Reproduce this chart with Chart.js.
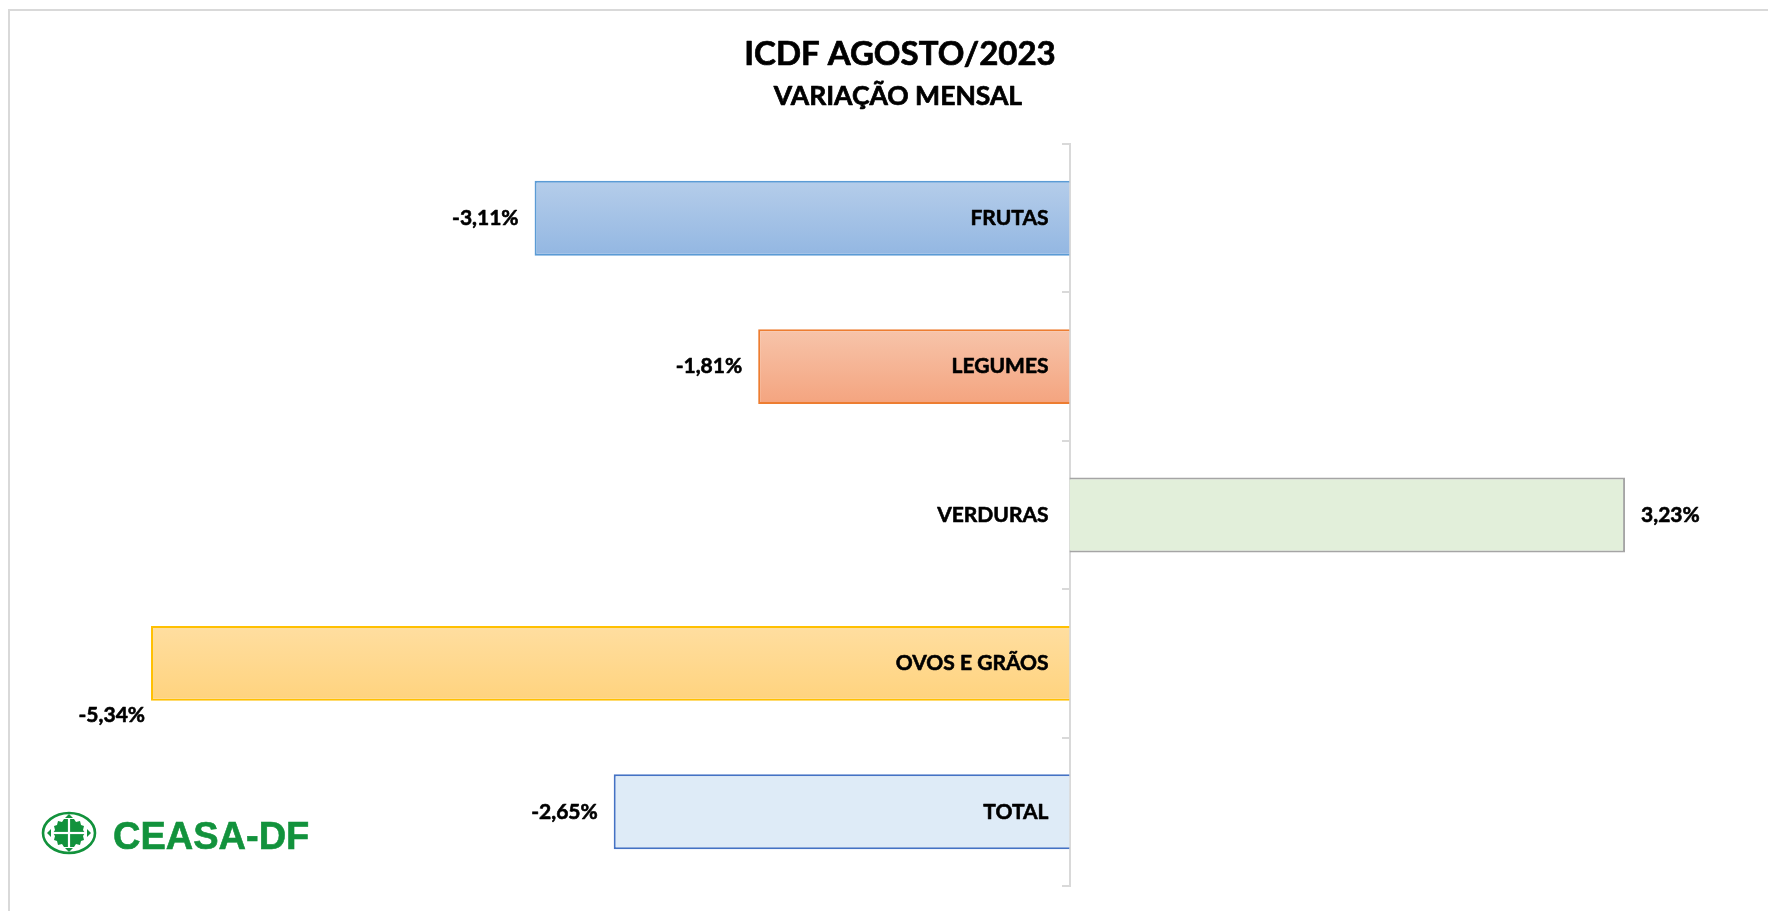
<!DOCTYPE html>
<html lang="pt-BR">
<head>
<meta charset="utf-8">
<title>ICDF AGOSTO/2023</title>
<script src="https://cdn.jsdelivr.net/npm/chart.js@4/dist/chart.umd.min.js"></script>
<style>
  html, body { margin: 0; padding: 0; background: #fff; }
  #wrap { position: relative; width: 1768px; height: 911px; overflow: hidden; }
  #frame { position: absolute; left: 8px; top: 9px; width: 1800px; height: 950px; border: 2px solid #d9d9d9; box-sizing: border-box; }
  #logo { position: absolute; left: 36px; top: 806px; }
</style>
</head>
<body>
<div id="wrap">
  <div id="frame"></div>
  <canvas id="grafico" width="1768" height="911"></canvas>
  <svg id="logo" width="290" height="56" viewBox="0 0 290 56">
    <ellipse cx="33" cy="27" rx="26" ry="20" fill="none" stroke="#12923c" stroke-width="2.6"/>
    <polygon points="28,13 38,13 40,16 44,15 45,19 48,20 47,24 49,27 47,30 48,34 45,35 44,39 40,38 38,41 28,41 26,38 22,39 21,35 18,34 19,30 17,27 19,24 18,20 21,19 22,15 26,16" fill="#12923c"/>
    <line x1="33" y1="13" x2="33" y2="41" stroke="#fff" stroke-width="2.2"/>
    <line x1="17" y1="27" x2="49" y2="27" stroke="#fff" stroke-width="2.2"/>
    <polygon points="33,8 37,12 29,12" fill="#12923c"/>
    <polygon points="33,46 37,42 29,42" fill="#12923c"/>
    <polygon points="11,27 15,23 15,31" fill="#12923c"/>
    <polygon points="55,27 51,23 51,31" fill="#12923c"/>
    <text x="77" y="43" font-family="Liberation Sans, Arial, sans-serif" font-weight="bold" font-size="38" fill="#12923c" stroke="#12923c" stroke-width="0.6">CEASA-DF</text>
  </svg>
</div>
<script>
// categorias e valores (variação mensal, %)
const categorias = ["FRUTAS", "LEGUMES", "VERDURAS", "OVOS E GRÃOS", "TOTAL"];
const variacao = [-3.11, -1.81, 3.23, -5.34, -2.65];
const rotulos = ["-3,11%", "-1,81%", "3,23%", "-5,34%", "-2,65%"];

// cores: topo e base do degradê, e borda
const corTopo = ["#b5cdea", "#f7c4aa", "#e2efda", "#ffdea0", "#deebf7"];
const corBase = ["#93b7e2", "#f4a47f", "#e2efda", "#ffd37e", "#deebf7"];
const corBorda = ["#5b9bd5", "#ed7d31", "#a5a5a5", "#ffc000", "#4472c4"];

const fonte = "Lato, 'Open Sans', sans-serif";

function degrade(ctx) {
    const chart = ctx.chart;
    const i = ctx.dataIndex;
    if (!chart.chartArea || i === undefined) return corBase[i] || corBase[0];
    const y = chart.scales.y.getPixelForValue(i);
    const meia = chart.scales.y.height / categorias.length / 4;
    const g = chart.ctx.createLinearGradient(0, y - meia, 0, y + meia);
    g.addColorStop(0, corTopo[i]);
    g.addColorStop(1, corBase[i]);
    return g;
}

// texto um pouco mais encorpado (parecido com Calibri negrito)
function escreve(c, t, x, y) {
    c.strokeText(t, x, y);
    c.fillText(t, x, y);
}

// textos: título, nomes das categorias e rótulos de valor
const textos = {
    id: "textos",
    afterDraw(chart) {
        const c = chart.ctx;
        const x = chart.scales.x;
        const y = chart.scales.y;
        const zero = x.getPixelForValue(0);
        c.save();
        c.fillStyle = "#000";
        c.strokeStyle = "#000";
        c.lineWidth = 0.7;
        c.lineJoin = "round";
        c.textBaseline = "middle";
        c.textAlign = "center";
        c.font = "bold 33px " + fonte;
        escreve(c, "ICDF AGOSTO/2023", 900, 54);
        c.font = "bold 26.5px " + fonte;
        escreve(c, "VARIAÇÃO MENSAL", 898, 96);

        c.font = "bold 21px " + fonte;
        c.lineWidth = 0.6;
        const meta = chart.getDatasetMeta(0);
        categorias.forEach(function (nome, i) {
            const cy = y.getPixelForValue(i);
            c.textAlign = "right";
            escreve(c, nome, zero - 21, cy);

            const fim = x.getPixelForValue(variacao[i]);
            const texto = rotulos[i];
            const w = c.measureText(texto).width;
            if (variacao[i] >= 0) {
                c.textAlign = "left";
                escreve(c, texto, fim + 16, cy);
            } else if (fim - 16 - w < 100) {
                // sem espaço: vai para baixo da barra
                const base = meta.data[i].y + meta.data[i].height / 2;
                c.textAlign = "right";
                escreve(c, texto, fim - 6, base + 14);
            } else {
                c.textAlign = "right";
                escreve(c, texto, fim - 16, cy);
            }
        });
        c.restore();
    }
};

new Chart(document.getElementById("grafico"), {
    type: "bar",
    data: {
        labels: categorias,
        datasets: [{
            data: variacao,
            backgroundColor: degrade,
            borderColor: corBorda,
            borderWidth: 2,
            barPercentage: 0.505,
            categoryPercentage: 1
        }]
    },
    options: {
        indexAxis: "y",
        responsive: false,
        animation: false,
        layout: { padding: { left: 37.5, right: 10.5, top: 144, bottom: 25 } },
        plugins: { legend: { display: false }, tooltip: { enabled: false }, title: { display: false } },
        scales: {
            x: { display: false, min: -6, max: 4 },
            y: {
                position: { x: 0 },
                ticks: { display: false },
                grid: { offset: true, drawOnChartArea: false, tickLength: 7, color: "#d9d9d9", lineWidth: 2 },
                border: { display: true, color: "#d9d9d9", width: 2 }
            }
        }
    },
    plugins: [textos]
});
</script>
</body>
</html>
